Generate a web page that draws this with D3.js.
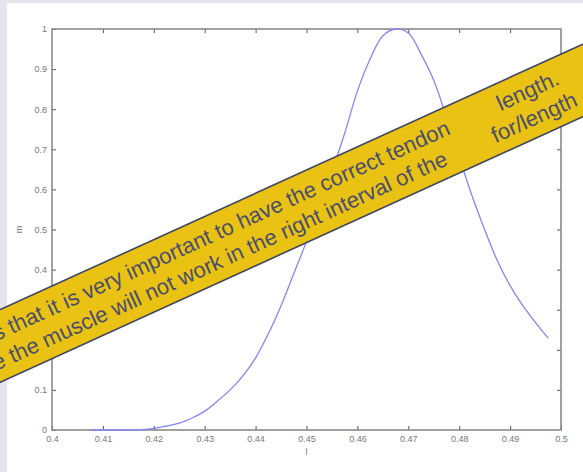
<!DOCTYPE html>
<html>
<head>
<meta charset="utf-8">
<script src="https://cdn.jsdelivr.net/npm/d3@7"></script>
<style>
  body { margin: 0; background: #e4e4ef; }
  svg { display: block; }
</style>
</head>
<body>
<svg id="chart" width="583" height="472"></svg>
<script>
// curve samples (l on x, m on y)
var lValues = [0.4075, 0.41, 0.4125, 0.415, 0.4175, 0.42, 0.4225, 0.425, 0.4275, 0.43,
  0.4325, 0.435, 0.4375, 0.44, 0.4425, 0.445, 0.4475, 0.45, 0.4525, 0.455,
  0.4575, 0.46, 0.4625, 0.465, 0.4675, 0.47, 0.4725, 0.475, 0.4775, 0.48,
  0.4825, 0.485, 0.4875, 0.49, 0.4925, 0.495, 0.4975];
var mValues = [0, 0, 0, 0, 0.001, 0.004, 0.01, 0.017, 0.03, 0.047,
  0.072, 0.1, 0.135, 0.18, 0.24, 0.31, 0.39, 0.47, 0.555, 0.645,
  0.74, 0.845, 0.925, 0.983, 1.0, 0.99, 0.938, 0.872, 0.78, 0.68,
  0.585, 0.5, 0.422, 0.36, 0.31, 0.268, 0.229];

var xTicks = [0.4, 0.41, 0.42, 0.43, 0.44, 0.45, 0.46, 0.47, 0.48, 0.49, 0.5];
var yTicks = [0, 0.1, 0.2, 0.3, 0.4, 0.5, 0.6, 0.7, 0.8, 0.9, 1];

var bannerLine1 = ["s that it is very important to have the correct tendon", "length."];
var bannerLine2 = ["e the muscle will not work in the right interval of the", "for/length"];

var svg = d3.select("#chart");

// white page area
svg.append("rect")
  .attr("x", 7).attr("y", 3)
  .attr("width", 576).attr("height", 469)
  .attr("fill", "#ffffff");

var margin = { left: 52, top: 29, right: 22, bottom: 42 };
var width = 583 - margin.left - margin.right;
var height = 472 - margin.top - margin.bottom;

var x = d3.scaleLinear().domain([0.4, 0.5]).range([margin.left, margin.left + width]);
var y = d3.scaleLinear().domain([0, 1]).range([margin.top + height, margin.top]);

var fmt = function (d) { return String(+d.toFixed(2)); };
var axisColor = "#8a8a8a";

function styleAxis(g, showLabels) {
  g.select(".domain").remove();
  g.selectAll(".tick line").attr("stroke", "#555").attr("stroke-width", 1);
  g.selectAll(".tick text")
    .attr("fill", "#777")
    .style("font-family", "Liberation Sans, Arial, sans-serif")
    .style("font-size", "9px")
    .style("display", showLabels ? null : "none");
}

// bottom
svg.append("g")
  .attr("transform", "translate(0," + (margin.top + height) + ")")
  .call(d3.axisBottom(x).tickValues(xTicks).tickFormat(fmt).tickSizeInner(-4).tickSizeOuter(0).tickPadding(6))
  .call(function (g) { styleAxis(g, true); });
// top
svg.append("g")
  .attr("transform", "translate(0," + margin.top + ")")
  .call(d3.axisTop(x).tickValues(xTicks.slice(1, -1)).tickSizeInner(-4).tickSizeOuter(0))
  .call(function (g) { styleAxis(g, false); });
// left
svg.append("g")
  .attr("transform", "translate(" + margin.left + ",0)")
  .call(d3.axisLeft(y).tickValues(yTicks).tickFormat(fmt).tickSizeInner(-4).tickSizeOuter(0).tickPadding(5))
  .call(function (g) { styleAxis(g, true); });
// right
svg.append("g")
  .attr("transform", "translate(" + (margin.left + width) + ",0)")
  .call(d3.axisRight(y).tickValues(yTicks.slice(1, -1)).tickSizeInner(-4).tickSizeOuter(0))
  .call(function (g) { styleAxis(g, false); });

// box
svg.append("rect")
  .attr("x", margin.left).attr("y", margin.top)
  .attr("width", width).attr("height", height)
  .attr("fill", "none")
  .attr("stroke", axisColor)
  .attr("stroke-width", 1.6);

// axis labels
svg.append("text")
  .attr("x", x(0.45)).attr("y", margin.top + height + 25)
  .attr("text-anchor", "middle")
  .attr("fill", "#777")
  .style("font-family", "Liberation Sans, Arial, sans-serif")
  .style("font-size", "9px")
  .text("l");
svg.append("text")
  .attr("transform", "translate(22," + y(0.5) + ") rotate(-90)")
  .attr("text-anchor", "middle")
  .attr("fill", "#777")
  .style("font-family", "Liberation Sans, Arial, sans-serif")
  .style("font-size", "9px")
  .text("m");

// the curve
var pts = lValues.map(function (d, i) { return [d, mValues[i]]; });
var line = d3.line()
  .x(function (d) { return x(d[0]); })
  .y(function (d) { return y(d[1]); })
  .curve(d3.curveCatmullRom);

svg.append("path")
  .datum(pts)
  .attr("fill", "none")
  .attr("stroke", "#8585f7")
  .attr("stroke-width", 1.3)
  .attr("d", line);

// slanted yellow banner over the chart
var banner = svg.append("g")
  .attr("transform", "translate(0,346) rotate(-24.5)");

banner.append("rect")
  .attr("x", -100).attr("y", -33)
  .attr("width", 900).attr("height", 66)
  .attr("fill", "#e9c213");
banner.selectAll("line.edge")
  .data([-33, 33])
  .enter().append("line")
  .attr("class", "edge")
  .attr("x1", -100).attr("x2", 800)
  .attr("y1", function (d) { return d; })
  .attr("y2", function (d) { return d; })
  .attr("stroke", "#3f4461")
  .attr("stroke-width", 1.6);

var textStyle = function (t) {
  t.attr("fill", "#4a4e6c")
    .style("font-family", "Liberation Sans, Arial, sans-serif")
    .style("font-size", "22px");
};
banner.append("text").attr("x", 499).attr("y", -6).attr("text-anchor", "end").text(bannerLine1[0]).call(textStyle);
banner.append("text").attr("x", 553).attr("y", -6).text(bannerLine1[1]).call(textStyle);
banner.append("text").attr("x", 484).attr("y", 21).attr("text-anchor", "end").text(bannerLine2[0]).call(textStyle);
banner.append("text").attr("x", 535).attr("y", 21).text(bannerLine2[1]).call(textStyle);
</script>
</body>
</html>
